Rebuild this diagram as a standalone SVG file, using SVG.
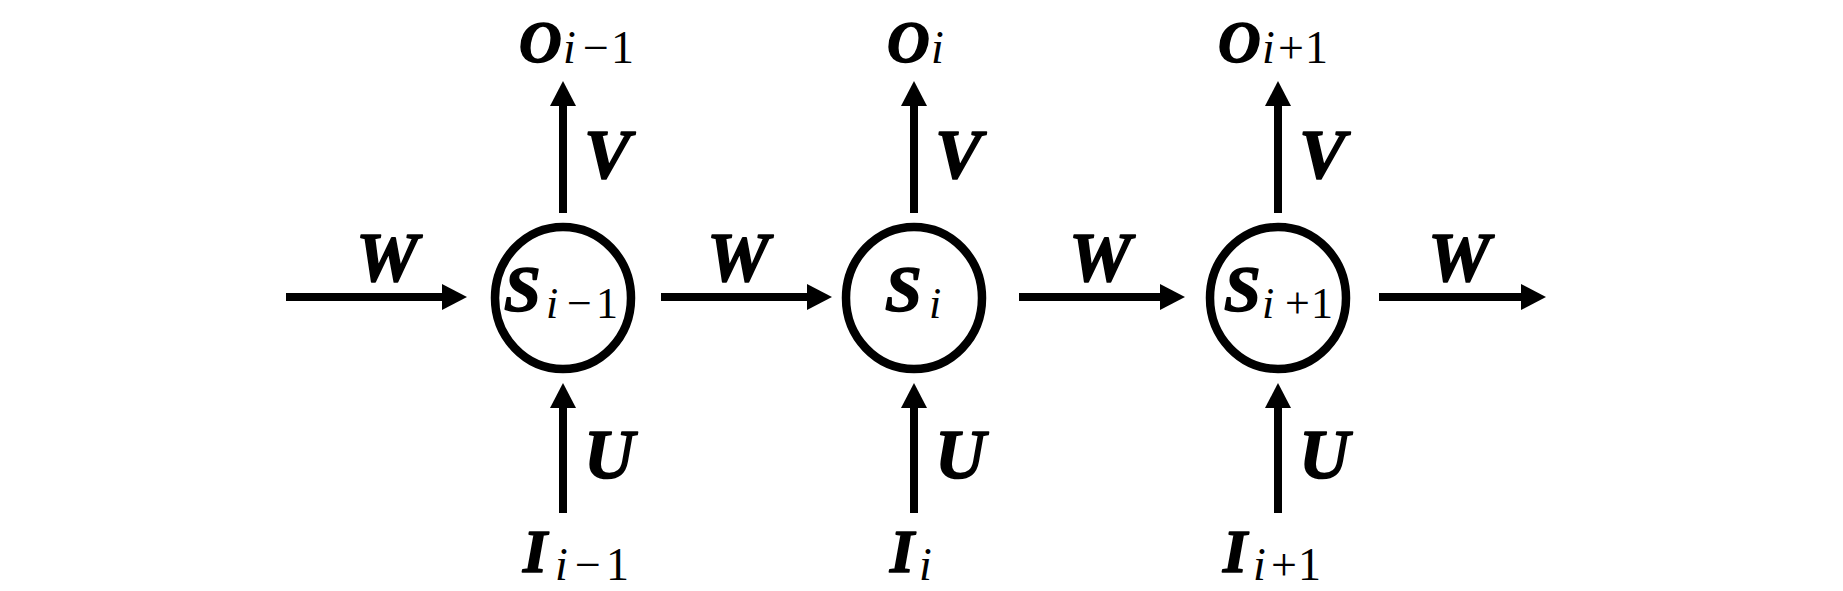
<svg xmlns="http://www.w3.org/2000/svg" width="1843" height="591" viewBox="0 0 1843 591">
<style>
text{font-family:"Liberation Serif","Times New Roman",serif;fill:#000}
.m{font-weight:bold;font-style:italic;stroke:#000;stroke-width:1.6;stroke-linejoin:round}
.si{font-weight:normal;font-style:italic;stroke:none}
.sr{font-weight:normal;font-style:normal;stroke:none}
.o{font-size:59px}.os{font-size:46px}
.s{font-size:66px}.ss{font-size:44px}
.i{font-size:62px}.is{font-size:46px}
.lab{font-size:70px}
.node{fill:#fff;stroke:#000;stroke-width:8.5}
.arr{stroke:#000;stroke-width:8;fill:none;marker-end:url(#ah)}
</style>
<defs>
<marker id="ah" markerUnits="userSpaceOnUse" markerWidth="25" markerHeight="26" viewBox="0 0 25 26" refX="0" refY="13" orient="auto">
<path d="M0,0 L25,13 L0,26 z" fill="#000"/>
</marker>
</defs>
<rect width="1843" height="591" fill="#fff"/>
<g id="connectors">
<line class="arr" x1="286" y1="297" x2="442" y2="297"/>
<line class="arr" x1="661" y1="297" x2="807" y2="297"/>
<line class="arr" x1="1019" y1="297" x2="1160" y2="297"/>
<line class="arr" x1="1379" y1="297" x2="1521" y2="297"/>
<line class="arr" x1="563" y1="213" x2="563" y2="106"/>
<line class="arr" x1="914" y1="213" x2="914" y2="106"/>
<line class="arr" x1="1278" y1="213" x2="1278" y2="106"/>
<line class="arr" x1="563" y1="513" x2="563" y2="408"/>
<line class="arr" x1="914" y1="513" x2="914" y2="408"/>
<line class="arr" x1="1278" y1="513" x2="1278" y2="408"/>
<text class="m lab" x="356" y="281">W</text>
<text class="m lab" x="707" y="281">W</text>
<text class="m lab" x="1069" y="281">W</text>
<text class="m lab" x="1428" y="281">W</text>
<text class="m lab" x="584" y="178">V</text>
<text class="m lab" x="935" y="178">V</text>
<text class="m lab" x="1299" y="178">V</text>
<text class="m lab" x="584" y="478">U</text>
<text class="m lab" x="935" y="478">U</text>
<text class="m lab" x="1299" y="478">U</text>
</g>
<g id="s_im1">
<ellipse class="node" cx="563" cy="298" rx="68" ry="71"/>
<text y="311"><tspan class="m s" x="504">S</tspan><tspan class="si ss" x="546" y="318">i</tspan><tspan class="sr ss" x="567">−</tspan><tspan class="sr ss" x="596">1</tspan></text>
</g>
<g id="s_i">
<ellipse class="node" cx="914" cy="298" rx="68" ry="71"/>
<text y="311"><tspan class="m s" x="885">S</tspan><tspan class="si ss" x="929" y="318">i</tspan></text>
</g>
<g id="s_ip1">
<ellipse class="node" cx="1278" cy="298" rx="68" ry="71"/>
<text y="311"><tspan class="m s" x="1224">S</tspan><tspan class="si ss" x="1262" y="318">i</tspan><tspan class="sr ss" x="1285">+</tspan><tspan class="sr ss" x="1311">1</tspan></text>
</g>
<g id="o_im1">
<text y="62"><tspan class="m o" x="519">O</tspan><tspan class="si os" x="563" y="63">i</tspan><tspan class="sr os" x="583">−</tspan><tspan class="sr os" x="611">1</tspan></text>
</g>
<g id="o_i">
<text y="62"><tspan class="m o" x="887">O</tspan><tspan class="si os" x="931" y="63">i</tspan></text>
</g>
<g id="o_ip1">
<text y="62"><tspan class="m o" x="1218">O</tspan><tspan class="si os" x="1262" y="63">i</tspan><tspan class="sr os" x="1278">+</tspan><tspan class="sr os" x="1305">1</tspan></text>
</g>
<g id="i_im1">
<text y="572"><tspan class="m i" x="523">I</tspan><tspan class="si is" x="555" y="580">i</tspan><tspan class="sr is" x="575">−</tspan><tspan class="sr is" x="606">1</tspan></text>
</g>
<g id="i_i">
<text y="572"><tspan class="m i" x="890">I</tspan><tspan class="si is" x="919" y="580">i</tspan></text>
</g>
<g id="i_ip1">
<text y="572"><tspan class="m i" x="1223">I</tspan><tspan class="si is" x="1253" y="580">i</tspan><tspan class="sr is" x="1271">+</tspan><tspan class="sr is" x="1298">1</tspan></text>
</g>
</svg>
